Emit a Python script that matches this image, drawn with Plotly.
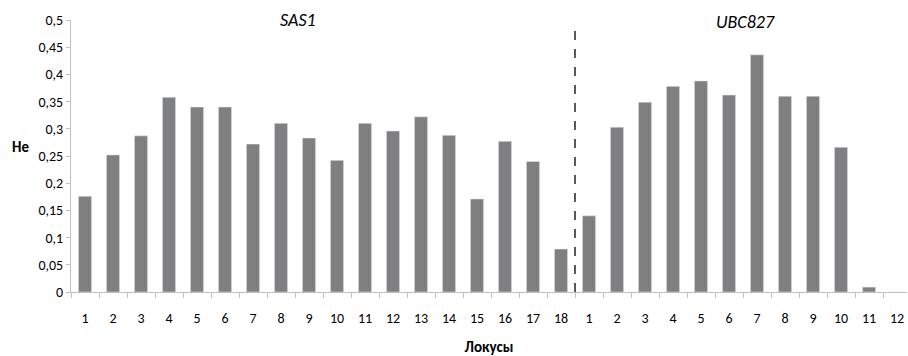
import plotly.graph_objects as go

sas1_labels = [str(i) for i in range(1, 19)]
sas1_values = [0.176, 0.252, 0.287, 0.358, 0.340, 0.340, 0.272, 0.310, 0.283,
               0.242, 0.310, 0.296, 0.322, 0.288, 0.171, 0.277, 0.240, 0.079]
ubc_labels = [str(i) for i in range(1, 13)]
ubc_values = [0.140, 0.303, 0.349, 0.378, 0.388, 0.362, 0.436, 0.360, 0.360,
              0.266, 0.009, 0.0]

cats = [f"SAS1-{l}" for l in sas1_labels] + [f"UBC827-{l}" for l in ubc_labels]
vals = sas1_values + ubc_values
ticktext = sas1_labels + ubc_labels

FONT = "Carlito, Lato, sans-serif"

fig = go.Figure(go.Bar(x=cats, y=vals, marker_color="#808080", width=0.47))

n1 = len(sas1_values)
n = len(vals)
fig.add_shape(type="line", xref="x", yref="y", x0=n1 - 0.5, x1=n1 - 0.5,
              y0=0, y1=0.495, line=dict(color="black", width=1.3, dash="dash"))

fig.add_annotation(x=7.6, y=0.5, xref="x", yref="y", text="<i>SAS1</i>",
                   showarrow=False, font=dict(size=18, color="black", family=FONT),
                   xanchor="center", yanchor="middle")
fig.add_annotation(x=23.6, y=0.497, xref="x", yref="y", text="<i>UBC827</i>",
                   showarrow=False, font=dict(size=18, color="black", family=FONT),
                   xanchor="center", yanchor="middle")
fig.add_annotation(x=-0.061, y=0.533, xref="paper", yref="paper", text="<b>He</b>",
                   showarrow=False, font=dict(size=15, color="black", family=FONT),
                   xanchor="center", yanchor="middle")

fig.update_layout(
    width=908, height=356,
    margin=dict(l=71, r=1, t=20, b=64),
    plot_bgcolor="white", paper_bgcolor="white",
    separators=", ",
    showlegend=False,
    font=dict(family=FONT, size=14, color="black"),
)

fig.update_xaxes(
    type="category", tickmode="array", tickvals=cats, ticktext=ticktext,
    range=[-0.5, n - 0.5 - 0.143], automargin=False,
    showline=True, linecolor="#bfbfbf", linewidth=1,
    ticks="outside", tickson="boundaries", ticklen=5, tickcolor="#bfbfbf",
    ticklabelstandoff=13,
    tickfont=dict(size=14, family=FONT),
    title=dict(text="<b>Локусы</b>", font=dict(size=15, family=FONT), standoff=16),
    showgrid=False, zeroline=False,
)
fig.update_yaxes(
    range=[0, 0.5], tickvals=[0, 0.05, 0.1, 0.15, 0.2, 0.25, 0.3, 0.35, 0.4, 0.45, 0.5],
    automargin=False,
    showline=True, linecolor="#bfbfbf", linewidth=1,
    ticks="outside", ticklen=4, tickcolor="#bfbfbf",
    tickfont=dict(size=14, family=FONT),
    showgrid=False, zeroline=False,
)

fig.write_html("out.html",
               config={"displayModeBar": False},
               post_script="document.body.style.margin='0';document.body.style.padding='0';")
